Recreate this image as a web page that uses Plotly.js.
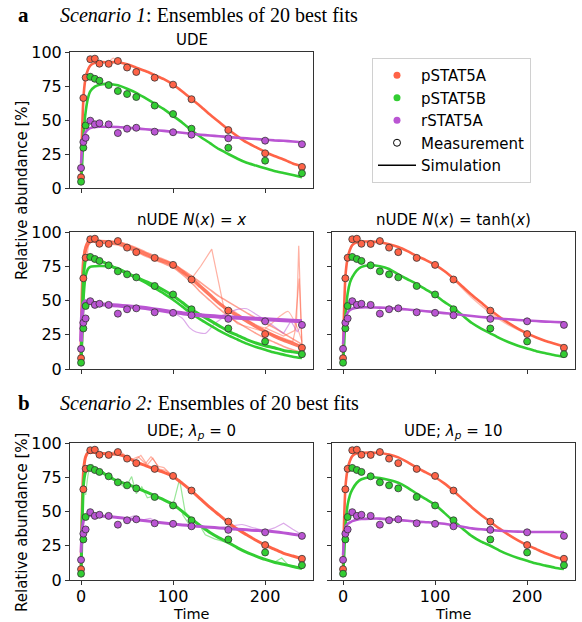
<!DOCTYPE html>
<html><head><meta charset="utf-8">
<script src="https://cdn.plot.ly/plotly-3.0.1.min.js"></script>
<style>html,body{margin:0;padding:0;background:#fff}#chart{width:582px;height:622px}</style>
</head><body><div id="chart"></div><script>
// ---------- measurements ----------
const tMeas = [0, 2.5, 5, 10, 15, 20, 30, 40, 50, 60, 80, 100, 120, 160, 200, 240];
const measA = [7.9, 66.2, 81.2, 94.7, 95.1, 91.4, 91.3, 93.4, 88.6, 85.3, 81.1, 76.0, 65.3, 42.6, 25.5, 15.5];
const measB = [4.6, 29.6, 46.0, 81.8, 80.3, 78.9, 75.7, 71.3, 69.1, 66.9, 60.6, 54.4, 43.6, 29.6, 20.1, 10.8];
const measC = [14.7, 33.8, 36.9, 49.5, 46.8, 47.6, 46.8, 40.4, 43.6, 44.3, 41.4, 41.0, 39.2, 36.6, 34.8, 32.2];

// ---------- simulations (time grid) ----------
const tSim = [0, 1, 2, 3, 5, 7.5, 10, 15, 20, 30, 40, 50, 60, 70, 80, 90, 100, 110, 120, 130, 140, 150, 160, 170, 180, 190, 200, 210, 220, 230, 240];

// Panel: Scenario 1, UDE
const ude1_A = [8, 38, 58, 70, 81, 87, 90, 92, 92.5, 92.5, 92.5, 91, 88.5, 86, 83, 80, 76, 71, 65.5, 60, 54, 48.5, 43, 38, 33.5, 30, 26.5, 23.5, 21, 18, 16];
const ude1_B = [3, 15, 30, 42, 56, 66, 71, 74.5, 76, 76.5, 75.5, 73, 70, 66, 62, 58, 53, 48, 42.5, 37.5, 33, 28.5, 25, 21.5, 18.5, 16.5, 14.5, 12.5, 11, 9.5, 8];
const ude1_C = [18, 28, 34, 38, 41, 43, 44, 44.8, 45, 45, 44.8, 44.3, 43.8, 43.2, 42.6, 42, 41.3, 40.6, 39.9, 39.2, 38.6, 38, 37.5, 37, 36.5, 36, 35.5, 35, 34.7, 34.2, 33.5];
const ude1_A_alt_t = [20, 30, 35, 40, 50];
const ude1_A_alt = [92.5, 93, 95.5, 93, 91];

// Panel: Scenario 1, nUDE N(x)=x
const nx_A_mid = [8, 45, 70, 80, 88, 92, 94, 93.5, 93, 92.5, 92, 89.5, 87, 84, 81, 78.5, 76, 71, 66, 60, 54, 48, 43, 39, 35, 31, 27.5, 24, 21, 18.5, 16];
const nx_A_hi = [8, 50, 75, 84, 90, 94, 95, 94.5, 94, 93.5, 93, 91, 88.5, 85.5, 82.5, 80, 77, 72.5, 68, 63, 58, 53, 49, 45, 41, 37, 33.5, 30, 26, 22, 18];
const nx_A_lo = [8, 40, 65, 76, 85, 90, 92.5, 92.5, 92, 91.5, 90.5, 88, 85.5, 82.5, 79.5, 77, 74, 69, 63, 56, 50, 44, 38.5, 34, 30, 26, 22.5, 19.5, 16.5, 14, 12];
const nx_A_bump_t = [110, 120, 130, 142, 156, 170, 190, 210, 230, 240];
const nx_A_bump = [71, 66, 75, 87.5, 42, 33, 29, 25, 20, 16];
const nx_A_spike_t = [200, 220, 230, 234, 236.5, 240];
const nx_A_spike = [27, 21, 20, 32, 90, 16];
const nx_A_spike2_t = [200, 220, 232, 237, 240];
const nx_A_spike2 = [30, 24, 28, 66, 18];
const nx_A_wig_t = [160, 180, 200, 215, 225, 235, 240];
const nx_A_wig = [45, 36, 30, 38, 42, 30, 20];
const nx_A_early_t = [0, 2, 4, 6, 8, 12];
const nx_A_early = [8, 70, 86, 80, 90, 94];
const nx_B_hi = [3, 30, 55, 70, 80, 83, 82.5, 81, 79.5, 76, 72.7, 70, 67, 64, 61, 57.5, 53.5, 48.5, 43.5, 39.5, 35.5, 31.5, 27.5, 24.5, 21.5, 19, 17, 15.5, 13.5, 12.5, 11.5];
const nx_B_lo = [3, 20, 40, 55, 68, 73, 74.5, 75, 75.2, 75, 73.5, 70, 66.5, 63, 59, 55, 50.5, 45.5, 40.5, 36, 32, 28, 24.5, 21.5, 18.5, 16, 14, 12, 10.5, 9, 8];
const nx_C = [20, 38, 45, 48, 49.5, 49, 48.5, 48, 47.5, 46.8, 46.3, 45.8, 45.3, 44.5, 43.5, 42.5, 41.5, 40.7, 39.8, 39.2, 38.7, 38.2, 37.8, 37.4, 37, 36.6, 36.3, 35.9, 35.5, 35.2, 34.8];
const nx_C_dip_t = [100, 110, 118, 125, 135, 145, 155];
const nx_C_dip = [41, 37, 30, 27, 26, 33, 38];
const nx_C_bump_t = [150, 160, 170, 180, 190, 200];
const nx_C_bump = [38, 41, 43.5, 44, 40, 36];
const nx_C_wig_t = [200, 210, 220, 228, 235, 240];
const nx_C_wig = [36, 31, 26, 35, 27, 33];

// Panel: Scenario 1, nUDE N(x)=tanh(x)
const tanh_A = [8, 40, 60, 71, 81, 87, 90.5, 92.5, 93, 93, 92.5, 91, 89, 86, 82.5, 79.5, 76, 71.5, 66, 60, 54, 48.5, 43, 38, 33.5, 29.5, 26, 23, 20.5, 18.5, 16.5];
const tanh_A2_t = [120, 140, 160, 180, 200];
const tanh_A2 = [65.5, 52, 41, 32, 25.5];
const tanh_B = [3, 15, 30, 42, 55, 63, 67, 72, 74.5, 75.7, 75, 73, 69, 65.5, 62, 58, 54, 49, 44.5, 39, 33.6, 29.5, 26, 22.5, 19.5, 17, 15, 13, 11.5, 10, 9];
const tanh_C = [18, 28, 34, 38, 41, 43, 44, 44.8, 45, 45, 44.8, 44.5, 44, 43.4, 42.8, 42.2, 41.5, 40.8, 40.1, 39.4, 38.7, 38, 37.4, 36.8, 36.3, 35.8, 35.4, 35, 34.6, 34.3, 34];

// Panel: Scenario 2, UDE lambda_p = 0
const l0_A = [8, 45, 70, 82, 90, 93, 93.5, 93, 92.5, 92, 91.8, 89.5, 86, 83.5, 81, 78.5, 75.6, 70.5, 65, 59, 53, 47.5, 42, 37, 33, 29, 25.5, 22.5, 19.5, 17.5, 15.5];
const l0_A_wig_t = [50, 58, 65, 72, 78, 85, 92, 100];
const l0_A_wig = [89.5, 87, 91, 84, 89, 81, 80, 76];
const l0_A_wig2_t = [55, 62, 70, 76, 84, 90, 100];
const l0_A_wig2 = [88, 90, 85, 90, 83, 82, 75.5];
const l0_A_bump_t = [30, 36, 40, 45, 50];
const l0_A_bump = [92, 93.5, 95, 92.5, 90];
const l0_B = [3, 35, 60, 72, 79, 81.5, 82, 81, 79.8, 75.5, 72, 70, 67.5, 64.5, 61.5, 58.5, 55.2, 50, 44.4, 39.5, 34.6, 30.7, 27.3, 23.5, 20.2, 17.5, 15, 13, 11.5, 9.8, 8.3];
const l0_B_spike1_t = [40, 48, 55, 60, 66, 72, 80];
const l0_B_spike1 = [72, 67, 75.5, 63, 68, 60, 61.5];
const l0_B_spike2_t = [95, 100, 107, 113, 120, 130];
const l0_B_spike2 = [57, 55, 73.5, 50, 44, 39];
const l0_B_wig_t = [110, 120, 128, 135, 145, 160];
const l0_B_wig = [48, 38, 41, 33, 30, 27];
const l0_B_end_t = [200, 210, 218, 225, 240];
const l0_B_end = [15, 13, 16, 11, 8.5];
const l0_B_early_t = [5, 8, 12, 15, 20];
const l0_B_early = [62, 78, 84.5, 82, 80];
const l0_C = [20, 35, 41, 44, 46, 47, 47.2, 47, 46.8, 46.2, 45.6, 44.8, 44, 43.2, 42.4, 41.6, 40.8, 40.2, 39.6, 39, 38.5, 38, 37.5, 37, 36.6, 36.2, 35.8, 35.2, 34.4, 33.4, 32.5];
const l0_C_bump_t = [190, 200, 210, 220, 230, 240];
const l0_C_bump = [36.5, 35.8, 38, 41.5, 37, 33];
const l0_C_wig_t = [50, 58, 65, 75, 85];
const l0_C_wig = [45, 47, 43.5, 45, 42];
const l0_C_wig2_t = [150, 165, 175, 185, 200];
const l0_C_wig2 = [38, 39.5, 40.5, 38.5, 36];

// Panel: Scenario 2, UDE lambda_p = 10
const l10_A = [8, 40, 60, 71, 81, 87, 90.5, 92.5, 92.8, 93, 92.7, 91.5, 89.5, 86, 82, 78.5, 75, 70.5, 65, 59, 53, 47.5, 42.5, 37.5, 33, 29, 25.5, 22.5, 19.5, 17, 15];
const l10_B = [3, 15, 30, 42, 55, 62, 66, 71, 73.5, 75, 74.5, 73, 71, 67.5, 63, 59, 55, 49, 43, 37.5, 32, 28, 25, 21.5, 18.5, 16, 14, 12, 10.5, 9, 8];
const l10_C = [18, 30, 36, 39, 41, 42, 43, 44, 44.5, 44.8, 44.8, 44.3, 43.8, 43.2, 42.6, 42.2, 41.8, 41, 40, 38.8, 37.7, 37, 36.5, 36, 35.6, 35.3, 35.1, 35, 35, 35, 35];

// ---------- text ----------
const panelTitles = ['UDE', 'nUDE <i>N</i>(<i>x</i>) = <i>x</i>', 'nUDE <i>N</i>(<i>x</i>) = tanh(<i>x</i>)', 'UDE; <i>λ</i><sub><i>p</i></sub> = 0', 'UDE; <i>λ</i><sub><i>p</i></sub> = 10'];
const speciesNames = ['pSTAT5A', 'pSTAT5B', 'rSTAT5A'];
const xTicks = [0, 100, 200];
const yTicks = [0, 25, 50, 75, 100];

// ---------- build ----------
const COL = ['#FF6347', '#32CD32', '#BA55D3'];
const W = 582, H = 622;
const traces = [];
function ax(i) { return i === 1 ? ['x', 'y'] : ['x' + i, 'y' + i]; }
function line(p, x, y, c, w, op, shape) {
  const [xa, ya] = ax(p);
  traces.push({x: x, y: y, xaxis: xa, yaxis: ya, mode: 'lines', type: 'scatter', showlegend: false, hoverinfo: 'skip',
    opacity: op, line: {color: COL[c], width: w, shape: shape || 'linear', smoothing: 0.6}});
}
function mainSet(p, arrs, w) { arrs.forEach((a, c) => line(p, tSim, a, c, w || 2.6, 1, 'spline')); }

// panel 1
line(1, ude1_A_alt_t, ude1_A_alt, 0, 1.2, 0.45, 'spline');
mainSet(1, [ude1_A, ude1_B, ude1_C]);
// panel 2
line(2, nx_A_bump_t, nx_A_bump, 0, 1.2, 0.5);
line(2, nx_A_spike_t, nx_A_spike, 0, 1.2, 0.5);
line(2, nx_A_spike2_t, nx_A_spike2, 0, 1.2, 0.5);
line(2, nx_A_wig_t, nx_A_wig, 0, 1.2, 0.45, 'spline');
line(2, nx_A_early_t, nx_A_early, 0, 1.2, 0.5);
line(2, tSim, nx_A_hi, 0, 1.6, 0.6, 'spline');
line(2, tSim, nx_A_lo, 0, 1.6, 0.6, 'spline');
line(2, tSim, nx_A_mid, 0, 3.5, 0.85, 'spline');
line(2, nx_C_dip_t, nx_C_dip, 2, 1.2, 0.5, 'spline');
line(2, nx_C_bump_t, nx_C_bump, 2, 1.2, 0.5, 'spline');
line(2, nx_C_wig_t, nx_C_wig, 2, 1.2, 0.5);
line(2, tSim, nx_B_hi, 1, 3, 1, 'spline');
line(2, tSim, nx_B_lo, 1, 2.6, 1, 'spline');
line(2, tSim, nx_C, 2, 4, 1, 'spline');
// panel 3
line(3, tanh_A2_t, tanh_A2, 0, 1.5, 0.45, 'spline');
mainSet(3, [tanh_A, tanh_B, tanh_C]);
// panel 4
line(4, l0_A_wig_t, l0_A_wig, 0, 1.2, 0.5);
line(4, l0_A_wig2_t, l0_A_wig2, 0, 1.2, 0.5);
line(4, l0_A_bump_t, l0_A_bump, 0, 1.2, 0.5, 'spline');
line(4, l0_B_spike1_t, l0_B_spike1, 1, 1.2, 0.5);
line(4, l0_B_spike2_t, l0_B_spike2, 1, 1.2, 0.5);
line(4, l0_B_wig_t, l0_B_wig, 1, 1.2, 0.5);
line(4, l0_B_end_t, l0_B_end, 1, 1.2, 0.5);
line(4, l0_B_early_t, l0_B_early, 1, 1.2, 0.5, 'spline');
line(4, l0_C_bump_t, l0_C_bump, 2, 1.2, 0.5);
line(4, l0_C_wig_t, l0_C_wig, 2, 1.2, 0.5);
line(4, l0_C_wig2_t, l0_C_wig2, 2, 1.2, 0.5, 'spline');
mainSet(4, [l0_A, l0_B, l0_C], 3);
// panel 5
mainSet(5, [l10_A, l10_B, l10_C], 2.6);

// measurements on top
[1, 2, 3, 4, 5].forEach(p => {
  [measA, measB, measC].forEach((m, c) => {
    const [xa, ya] = ax(p);
    traces.push({x: tMeas, y: m, xaxis: xa, yaxis: ya, mode: 'markers', type: 'scatter', showlegend: false, hoverinfo: 'skip',
      marker: {color: COL[c], size: 7, line: {color: '#333', width: 0.8}}});
  });
});

// legend dummies
speciesNames.forEach((n, c) => traces.push({x: [null], y: [null], mode: 'markers', type: 'scatter', name: n,
  marker: {color: COL[c], size: 7}}));
traces.push({x: [null], y: [null], mode: 'markers', type: 'scatter', name: 'Measurement',
  marker: {symbol: 'circle-open', color: '#000', size: 7, line: {width: 1}}});
traces.push({x: [null], y: [null], mode: 'lines', type: 'scatter', name: 'Simulation', line: {color: '#000', width: 1.5}});

const colX = [[70, 313], [332, 575]];
const rowY = [[52, 188], [232, 369], [443, 580]];
const panels = [[0, 0], [1, 0], [1, 1], [2, 0], [2, 1]]; // [row, col]
const FONT = 'DejaVu Sans, sans-serif';
const layout = {width: W, height: H, margin: {l: 0, r: 0, t: 0, b: 0}, paper_bgcolor: '#fff', plot_bgcolor: '#fff',
  font: {family: FONT, color: '#000', size: 15},
  showlegend: true,
  legend: {x: 372 / W, y: 1 - 58 / H, xanchor: 'left', yanchor: 'top', bordercolor: '#d0d0d0', borderwidth: 1,
    bgcolor: '#fff', font: {size: 15, family: FONT}, tracegroupgap: 0, itemwidth: 38},
  annotations: [], shapes: []};

panels.forEach(([r, c], i) => {
  const k = i + 1;
  const xk = k === 1 ? 'xaxis' : 'xaxis' + k;
  const yk = k === 1 ? 'yaxis' : 'yaxis' + k;
  const common = {showgrid: false, zeroline: false, showline: true, mirror: true, linecolor: '#333', linewidth: 1,
    ticks: 'outside', ticklen: 4, tickwidth: 1, tickcolor: '#333', tickfont: {size: 16, family: FONT, color: '#000'}, fixedrange: true};
  layout[xk] = Object.assign({}, common, {domain: [colX[c][0] / W, colX[c][1] / W], range: [-12, 252], tickvals: xTicks,
    showticklabels: r === 2, ticklabelstandoff: -2, anchor: k === 1 ? 'y' : 'y' + k});
  layout[yk] = Object.assign({}, common, {domain: [1 - rowY[r][1] / H, 1 - rowY[r][0] / H], range: [0, 100], tickvals: yTicks,
    showticklabels: c === 0, anchor: k === 1 ? 'x' : 'x' + k});
  const cx = (colX[c][0] + colX[c][1]) / 2;
  layout.annotations.push({text: panelTitles[i], xref: 'paper', yref: 'paper', x: cx / W, y: 1 - (rowY[r][0] - 12) / H,
    xanchor: 'center', yanchor: 'middle', showarrow: false, font: {size: 15, family: FONT}});
  if (r === 2) layout.annotations.push({text: 'Time', xref: 'paper', yref: 'paper', x: cx / W, y: 1 - 613.5 / H,
    xanchor: 'center', yanchor: 'middle', showarrow: false, font: {size: 14.5, family: FONT}});
});
[[191], [523]].forEach(([cy]) => layout.annotations.push({text: 'Relative abundance [%]', xref: 'paper', yref: 'paper',
  x: 22 / W, y: 1 - cy / H, xanchor: 'center', yanchor: 'middle', textangle: -90, showarrow: false, font: {size: 15, family: FONT}}));
const SERIF = 'Liberation Serif, Times New Roman, serif';
[['a', 'Scenario 1', 15], ['b', 'Scenario 2', 403]].forEach(([l, s, cy]) => {
  layout.annotations.push({text: '<b>' + l + '</b>', xref: 'paper', yref: 'paper', x: 16 / W, y: 1 - cy / H,
    xanchor: 'left', yanchor: 'middle', showarrow: false, font: {size: 21, family: SERIF}});
  layout.annotations.push({text: '<i>' + s + '</i>' + (l === 'a' ? ':' : '<i>:</i>') + ' Ensembles of 20 best fits', xref: 'paper', yref: 'paper',
    x: 58 / W, y: 1 - cy / H, xanchor: 'left', yanchor: 'middle', showarrow: false, font: {size: 20, family: SERIF}});
});

Plotly.newPlot('chart', traces, layout, {staticPlot: true, displayModeBar: false});
</script></body></html>
